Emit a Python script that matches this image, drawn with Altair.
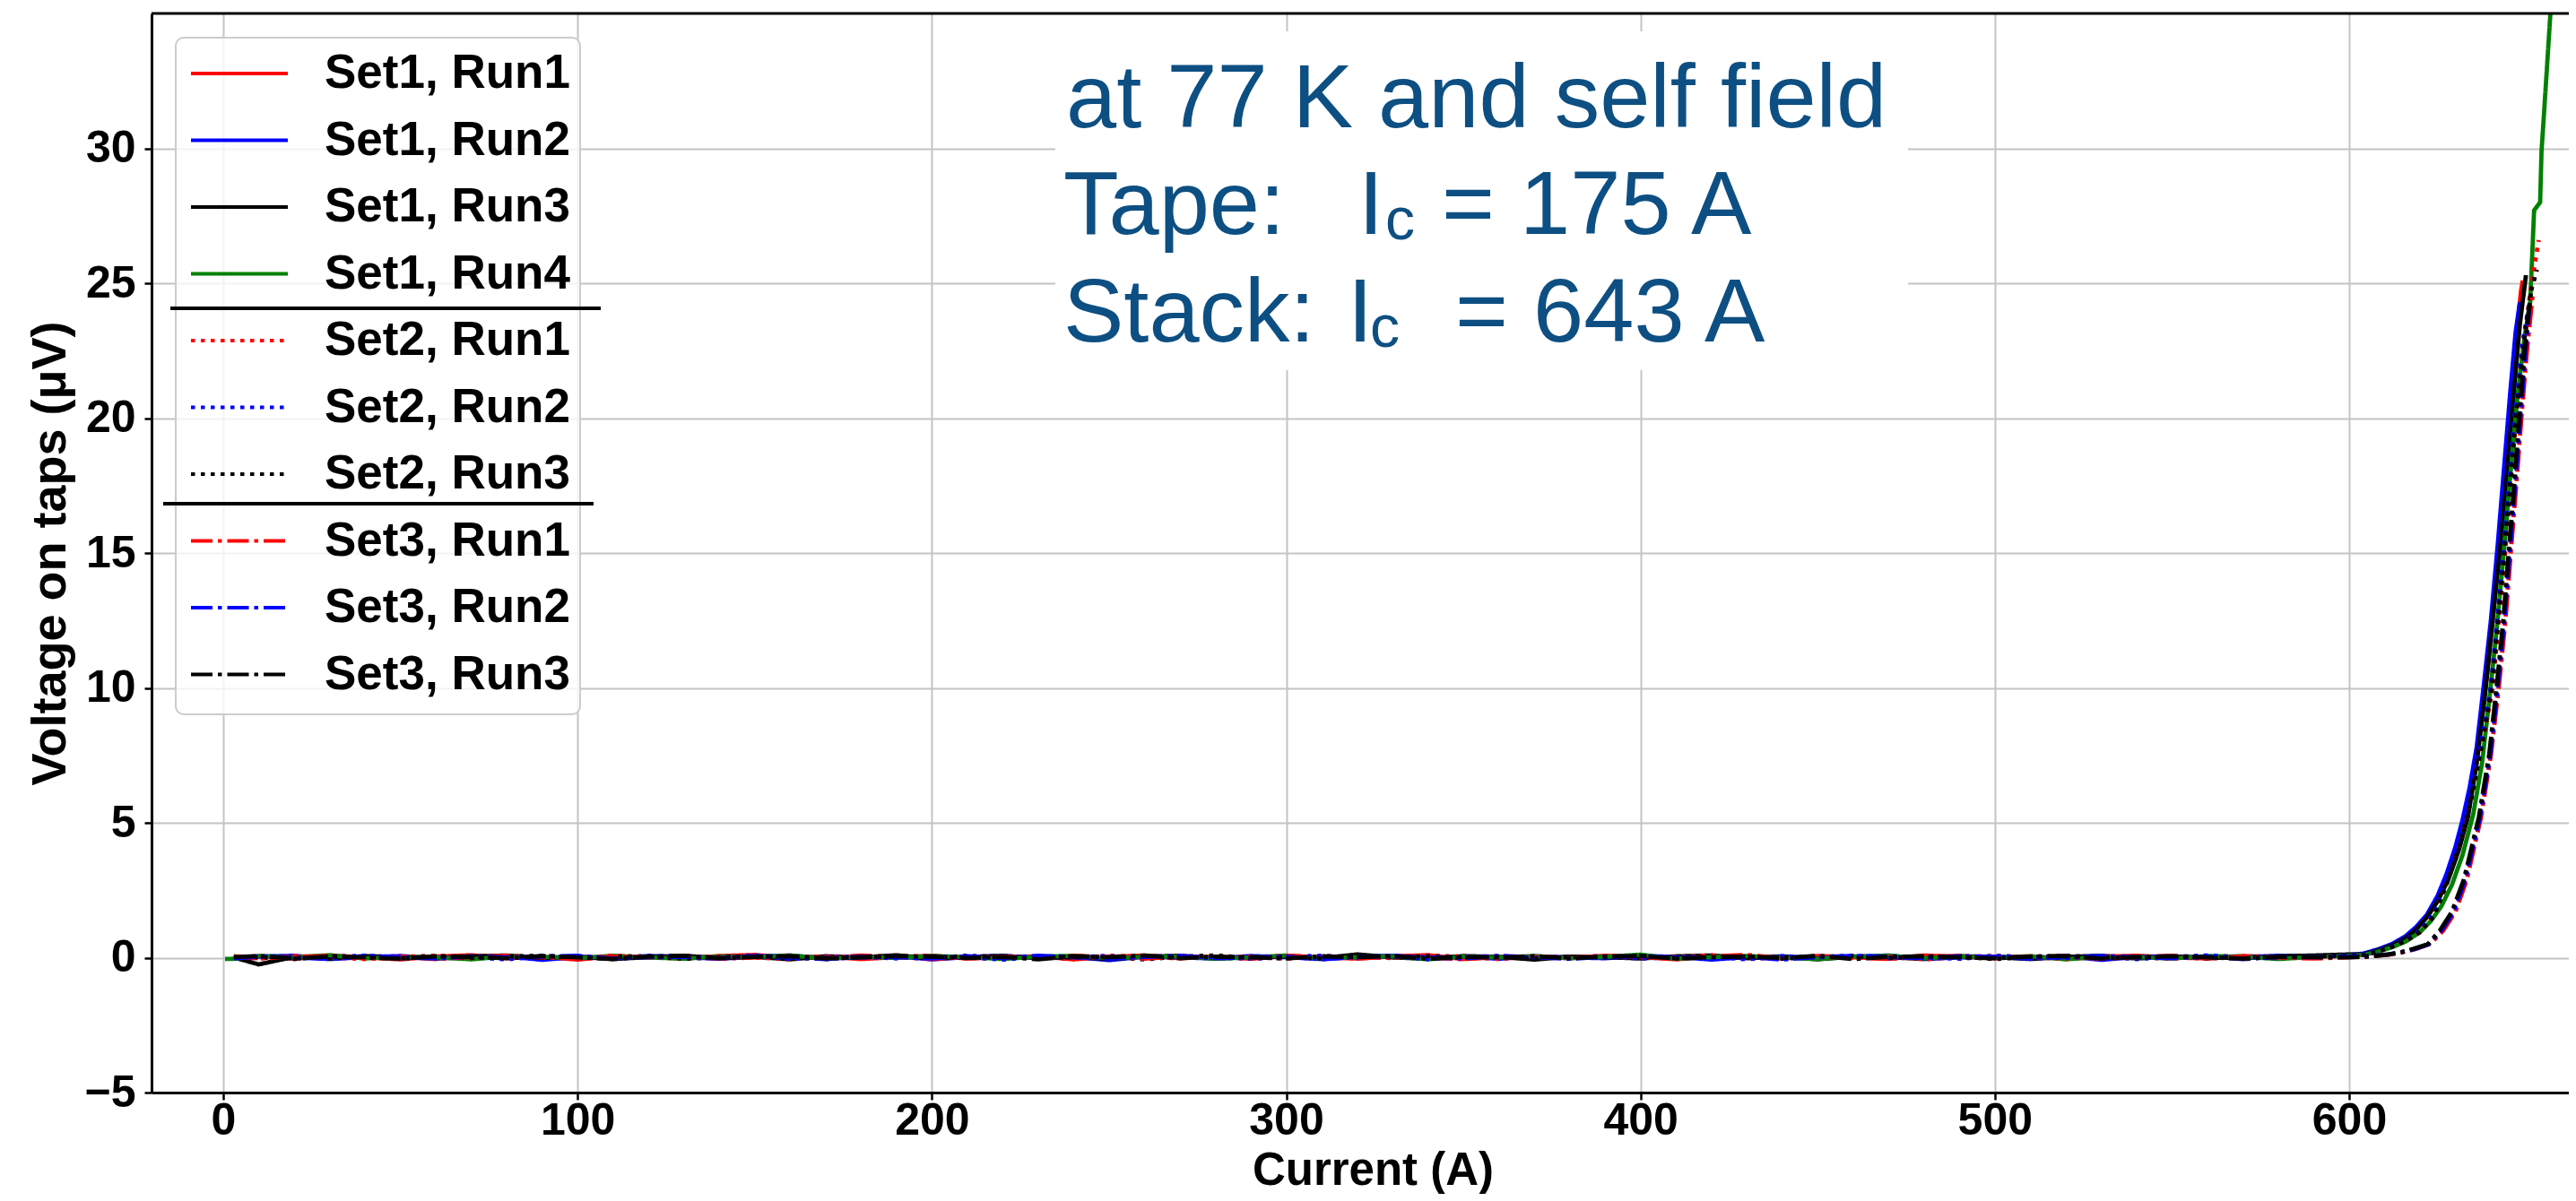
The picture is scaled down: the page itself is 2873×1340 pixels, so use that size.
import altair as alt
import pandas as pd

SERIES = ["Set1, Run1", "Set1, Run2", "Set1, Run3", "Set1, Run4",
          "Set2, Run1", "Set2, Run2", "Set2, Run3",
          "Set3, Run1", "Set3, Run2", "Set3, Run3"]
COLORS = ["#ff0000", "#0000ff", "#000000", "#008000",
          "#ff0000", "#0000ff", "#000000",
          "#ff0000", "#0000ff", "#000000"]
DASHES = [[1, 0], [1, 0], [1, 0], [1, 0],
          [4.5, 6.5], [4.5, 6.5], [4.5, 6.5],
          [24, 6, 4.5, 6], [24, 6, 4.5, 6], [24, 6, 4.5, 6]]

X_TICKS = [0, 100, 200, 300, 400, 500, 600]
Y_TICKS = [-5, 0, 5, 10, 15, 20, 25, 30]

# currents (A) of the flat, superconducting part
FLAT_CURRENT = [3, 10, 20, 30, 40, 50, 60, 70, 80, 90,
                100, 110, 120, 130, 140, 150, 160, 170, 180, 190,
                200, 210, 220, 230, 240, 250, 260, 270, 280, 290,
                300, 310, 320, 330, 340, 350, 360, 370, 380, 390,
                400, 410, 420, 430, 440, 450, 460, 470, 480, 490,
                500, 510, 520, 530, 540, 550, 560, 570, 580, 590,
                600]

# voltages (uV) of the flat part, one list per series
FLAT_S1R1 = [0.02, 0.05, -0.04, 0.08, 0.01, -0.06, 0.04, 0.09, -0.02, 0.03,
             -0.07, 0.05, 0.02, -0.03, 0.06, 0.10, -0.01, 0.04, -0.05, 0.02,
             0.07, -0.03, 0.01, 0.05, -0.06, 0.03, 0.08, -0.02, 0.04, -0.04,
             0.06, 0.01, -0.03, 0.05, 0.09, -0.05, 0.02, 0.04, -0.02, 0.07,
             0.03, -0.06, 0.05, 0.01, -0.03, 0.06, 0.02, -0.04, 0.08, 0.03,
             -0.02, 0.05, -0.05, 0.04, 0.07, 0.01, -0.03, 0.06, 0.02, 0.05,
             0.08]
FLAT_S1R2 = [-0.03, 0.04, 0.07, -0.05, 0.02, 0.06, -0.02, 0.01, 0.05, -0.08,
             0.03, -0.01, 0.06, 0.02, -0.04, 0.04, 0.08, -0.03, 0.01, 0.05,
             -0.06, 0.02, 0.07, -0.02, 0.03, -0.09, 0.04, 0.01, -0.03, 0.06,
             0.02, -0.05, 0.03, 0.07, -0.01, 0.04, -0.04, 0.05, 0.01, -0.02,
             0.06, 0.03, -0.07, 0.02, 0.05, -0.03, 0.04, 0.08, -0.05, 0.01,
             0.04, -0.02, 0.06, -0.08, 0.03, 0.05, -0.01, 0.02, 0.07, 0.04,
             0.10]
FLAT_S1R3 = [0.01, -0.25, 0.03, -0.04, 0.06, 0.02, -0.03, 0.05, 0.08, -0.01,
             0.04, -0.05, 0.02, 0.07, -0.02, 0.03, -0.06, 0.05, 0.01, 0.09,
             -0.04, 0.03, 0.06, -0.01, 0.02, -0.05, 0.04, 0.07, -0.03, 0.02,
             0.05, -0.02, 0.12, 0.01, -0.04, 0.06, 0.03, -0.07, 0.04, 0.02,
             -0.03, 0.05, 0.08, -0.02, 0.03, -0.06, 0.04, 0.01, -0.04, 0.06,
             0.02, -0.05, 0.03, 0.07, -0.03, 0.04, 0.01, -0.02, 0.05, 0.08,
             0.12]
FLAT_S1R4 = [-0.04, 0.06, 0.02, 0.09, -0.03, 0.04, 0.01, -0.06, 0.05, 0.03,
             -0.02, 0.07, 0.01, -0.04, 0.05, 0.02, 0.08, -0.03, 0.04, -0.01,
             0.06, 0.02, -0.05, 0.04, 0.07, -0.02, 0.03, 0.05, -0.04, 0.01,
             0.08, -0.03, 0.02, 0.05, -0.06, 0.04, 0.01, 0.06, -0.02, 0.03,
             0.11, -0.04, 0.02, 0.06, 0.01, -0.05, 0.03, 0.07, -0.02, 0.04,
             0.01, 0.05, -0.06, 0.03, 0.02, -0.03, 0.06, 0.04, -0.05, 0.03,
             0.07]
FLAT_S2R1 = [0.04, -0.02, 0.06, 0.01, -0.05, 0.03, 0.07, -0.01, 0.02, 0.05,
             -0.04, 0.08, 0.02, -0.02, 0.04, 0.01, -0.06, 0.05, 0.03, -0.01,
             0.06, -0.03, 0.04, 0.02, -0.05, 0.07, 0.01, -0.02, 0.05, 0.03,
             -0.04, 0.06, 0.02, -0.01, 0.08, 0.03, -0.05, 0.04, 0.01, 0.06,
             -0.02, 0.03, 0.09, -0.04, 0.02, 0.05, -0.01, 0.04, -0.06, 0.02,
             0.07, 0.01, -0.03, 0.05, 0.02, -0.04, 0.06, 0.03, -0.01, 0.04,
             0.06]
FLAT_S2R2 = [-0.01, 0.05, -0.04, 0.03, 0.07, -0.02, 0.04, 0.01, -0.06, 0.05,
             0.02, -0.03, 0.06, 0.04, -0.01, 0.08, -0.05, 0.02, 0.03, -0.02,
             0.05, 0.01, -0.07, 0.04, 0.02, 0.06, -0.03, 0.05, 0.01, -0.04,
             0.03, 0.07, -0.02, 0.04, -0.05, 0.02, 0.06, -0.01, 0.03, 0.05,
             -0.03, 0.02, 0.04, -0.06, 0.05, 0.01, 0.07, -0.02, 0.03, -0.04,
             0.06, 0.02, -0.01, 0.04, -0.05, 0.03, 0.08, 0.01, -0.02, 0.05,
             0.09]
FLAT_S2R3 = [0.03, 0.01, -0.05, 0.06, 0.02, -0.03, 0.05, -0.01, 0.04, 0.07,
             -0.02, 0.03, 0.05, -0.04, 0.01, 0.06, 0.02, -0.05, 0.04, 0.03,
             -0.01, 0.07, 0.02, -0.03, 0.05, 0.01, -0.06, 0.04, 0.08, -0.02,
             0.03, -0.04, 0.05, 0.02, 0.06, -0.01, 0.03, -0.05, 0.04, 0.02,
             0.07, -0.02, 0.01, 0.05, -0.04, 0.03, 0.06, -0.01, 0.02, 0.04,
             -0.05, 0.03, 0.07, 0.01, -0.02, 0.05, -0.03, 0.04, 0.02, 0.06,
             0.08]
FLAT_S3R1 = [0.05, -0.03, 0.02, 0.06, -0.01, 0.04, -0.05, 0.03, 0.07, 0.01,
             -0.03, 0.04, 0.02, 0.06, -0.04, 0.01, 0.05, -0.02, 0.08, 0.03,
             -0.05, 0.02, 0.04, -0.01, 0.06, 0.03, -0.04, 0.05, 0.01, -0.02,
             0.07, 0.02, -0.03, 0.04, 0.01, -0.06, 0.05, 0.03, -0.01, 0.06,
             0.02, -0.04, 0.05, 0.10, -0.02, 0.03, 0.01, -0.05, 0.04, 0.06,
             -0.01, 0.03, 0.05, -0.04, 0.02, 0.07, -0.02, 0.03, 0.01, -0.03,
             0.02]
FLAT_S3R2 = [-0.02, 0.04, 0.01, -0.05, 0.06, 0.02, -0.03, 0.05, 0.01, 0.04,
             0.07, -0.04, 0.02, 0.03, -0.02, 0.06, 0.01, -0.05, 0.04, 0.02,
             -0.03, 0.05, -0.01, 0.07, 0.02, -0.04, 0.03, 0.06, -0.02, 0.01,
             0.04, -0.06, 0.03, 0.05, 0.01, -0.03, 0.06, 0.02, -0.04, 0.03,
             0.05, 0.01, -0.02, 0.04, -0.07, 0.03, 0.06, 0.02, -0.01, 0.05,
             0.03, -0.04, 0.02, 0.06, 0.01, -0.02, 0.04, -0.05, 0.03, 0.02,
             0.04]
FLAT_S3R3 = [0.02, 0.06, -0.03, 0.04, 0.01, -0.04, 0.05, 0.03, -0.02, 0.06,
             0.01, -0.05, 0.04, 0.07, -0.02, 0.03, 0.05, -0.03, 0.02, 0.06,
             0.04, -0.01, 0.03, -0.06, 0.05, 0.02, 0.08, -0.02, 0.04, 0.01,
             -0.03, 0.05, 0.02, 0.06, -0.04, 0.03, 0.01, 0.05, -0.02, 0.04,
             0.06, -0.03, 0.02, 0.04, -0.01, 0.07, -0.05, 0.03, 0.05, 0.01,
             -0.02, 0.04, 0.06, -0.03, 0.02, 0.05, 0.01, -0.04, 0.03, 0.02,
             0.01]

# transition (quench onset) part: currents (A) and voltages (uV)
RISE_I_S1R1 = [604, 608, 612, 616, 619, 622, 625, 628, 630.5, 633, 635, 637, 639, 641, 643, 645, 647, 648.5, 649.0]
RISE_V_S1R1 = [0.12, 0.28, 0.48, 0.75, 1.1, 1.55, 2.2, 3.1, 4.1, 5.4, 6.7, 8.4, 10.6, 13.3, 16.3, 19.7, 22.8, 24.7, 25.1]
RISE_I_S1R2 = [604, 608, 612, 616, 619, 622, 625, 627.5, 630, 632, 634, 636, 638, 640, 642, 644, 645.5, 647, 648.2]
RISE_V_S1R2 = [0.15, 0.3, 0.5, 0.8, 1.15, 1.6, 2.3, 3.1, 4.1, 5.1, 6.3, 7.8, 10.1, 12.5, 15.4, 18.6, 21.0, 23.2, 24.3]
RISE_I_S1R3 = [604, 608, 612, 616, 619, 622, 625, 628, 631, 633.5, 636, 638.4, 640.5, 642.5, 644.5, 646.5, 648.2, 649.9]
RISE_V_S1R3 = [0.12, 0.27, 0.45, 0.72, 1.05, 1.5, 2.1, 2.9, 4.0, 5.2, 7.2, 9.8, 12.5, 15.0, 17.9, 21.0, 23.5, 25.3]
RISE_I_S1R4 = [604, 608, 612, 616, 620, 623, 626, 629, 632, 635, 637.5, 639.5, 641.5, 643.5, 645.5, 647.5, 649.5, 651.1, 652.2, 653.9, 654.3, 655.1, 656.8, 657.4]
RISE_V_S1R4 = [0.1, 0.22, 0.38, 0.6, 0.95, 1.35, 1.9, 2.7, 3.8, 5.3, 7.2, 9.5, 12.0, 14.8, 17.9, 20.8, 23.0, 24.3, 27.7, 28.0, 29.9, 31.5, 35.0, 36.2]
RISE_I_S2R1 = [604, 608, 612, 616, 620, 624, 628, 631.5, 634.5, 637.5, 640.5, 644, 647.1, 649.5, 651.5, 653.5]
RISE_V_S2R1 = [0.1, 0.22, 0.4, 0.63, 0.95, 1.6, 2.9, 4.3, 5.9, 7.9, 10.0, 15.0, 20.0, 23.0, 25.0, 26.6]
RISE_I_S2R2 = [604, 608, 612, 616, 620, 624, 627.5, 631, 634, 637, 640, 643.5, 646.6, 649, 650.5, 651.5]
RISE_V_S2R2 = [0.12, 0.25, 0.42, 0.66, 1.0, 1.65, 2.9, 4.3, 5.9, 7.8, 10.0, 15.0, 20.0, 22.8, 24.0, 24.5]
RISE_I_S2R3 = [604, 608, 612, 616, 620, 624, 628, 631.5, 634.5, 637.5, 640.3, 643.8, 647.0, 649.5, 651.5, 653]
RISE_V_S2R3 = [0.1, 0.22, 0.4, 0.62, 0.95, 1.55, 2.9, 4.3, 5.9, 7.9, 10.0, 15.0, 20.0, 23.0, 24.8, 25.5]
RISE_I_S3R1 = [606, 611, 615, 619, 623, 626.5, 630, 633.2, 637.2, 640, 642.2, 644.1, 645.6, 647.2, 648.6, 650.1, 651.8]
RISE_V_S3R1 = [0.05, 0.1, 0.2, 0.33, 0.52, 1.0, 1.7, 2.9, 5.2, 7.5, 10.0, 12.5, 15.0, 17.6, 20.0, 22.4, 24.6]
RISE_I_S3R2 = [606, 611, 614.6, 618.5, 622.5, 626, 629.5, 632.8, 636.9, 639.8, 641.9, 643.8, 645.3, 646.9, 648.3, 649.8, 651.0]
RISE_V_S3R2 = [0.06, 0.12, 0.2, 0.32, 0.5, 1.0, 1.7, 2.9, 5.2, 7.5, 10.0, 12.5, 15.0, 17.6, 20.0, 22.5, 24.3]
RISE_I_S3R3 = [606, 611, 614.6, 618, 622.2, 625.6, 629, 632.4, 636.6, 639.5, 641.6, 643.5, 645, 646.6, 648, 649.5, 651.4]
RISE_V_S3R3 = [0.05, 0.12, 0.2, 0.32, 0.5, 1.0, 1.7, 2.9, 5.2, 7.5, 10.0, 12.5, 15.0, 17.6, 20.0, 22.5, 24.8]

# Set1, Run4 starts a little earlier
S1R4_START_I = [0.5]
S1R4_START_V = [-0.05]

ANNOT_LINE1 = "at 77 K and self field"
ANNOT_TAPE = ["Tape:", "I", "c", "= 175 A"]
ANNOT_STACK = ["Stack:", "I", "c", "= 643 A"]

X_TITLE = "Current (A)"
Y_TITLE = "Voltage on taps (\u03bcV)"

# ---------------------------------------------------------------- table
FLAT = [FLAT_S1R1, FLAT_S1R2, FLAT_S1R3, FLAT_S1R4, FLAT_S2R1,
        FLAT_S2R2, FLAT_S2R3, FLAT_S3R1, FLAT_S3R2, FLAT_S3R3]
RISE_I = [RISE_I_S1R1, RISE_I_S1R2, RISE_I_S1R3, RISE_I_S1R4, RISE_I_S2R1,
          RISE_I_S2R2, RISE_I_S2R3, RISE_I_S3R1, RISE_I_S3R2, RISE_I_S3R3]
RISE_V = [RISE_V_S1R1, RISE_V_S1R2, RISE_V_S1R3, RISE_V_S1R4, RISE_V_S2R1,
          RISE_V_S2R2, RISE_V_S2R3, RISE_V_S3R1, RISE_V_S3R2, RISE_V_S3R3]

rows = []
for k, name in enumerate(SERIES):
    cur = list(FLAT_CURRENT) + list(RISE_I[k])
    vol = list(FLAT[k]) + list(RISE_V[k])
    if name == "Set1, Run4":
        cur = S1R4_START_I + cur
        vol = S1R4_START_V + vol
    for c, v in zip(cur, vol):
        rows.append({"series": name, "current": c, "voltage": v})
df = pd.DataFrame(rows)

# ---------------------------------------------------------------- chart
W, H = 2696, 1204
FONT = "Liberation Sans"
TXT_BLUE = "#0d4f82"

x_scale = alt.Scale(domain=[-20.25, 662.0], nice=False, zero=False)
y_scale = alt.Scale(domain=[-5, 35], nice=False, zero=False)

# legend: a horizontal stroke twice as long as the symbol box
leg = alt.Legend(orient="none", legendX=69, legendY=38, direction="vertical",
                 title=None, symbolType="M-2,0H2", symbolSize=2916,
                 symbolStrokeWidth=3.8, labelFont=FONT, labelFontWeight="bold",
                 labelFontSize=53, labelColor="black", labelOffset=66,
                 rowPadding=18.5, padding=0, labelLimit=0)

x_axis = alt.Axis(values=X_TICKS, title=X_TITLE, grid=True, gridColor="#c4c4c4",
                  gridWidth=2, domainColor="black", domainWidth=3,
                  tickColor="black", tickWidth=2.5, tickSize=8, labelPadding=-2,
                  labelFont=FONT, labelFontWeight="bold", labelFontSize=50,
                  labelColor="black", titleFont=FONT, titleFontWeight="bold",
                  titleFontSize=51, titleColor="black", titleX=1362, titleY=102,
                  titleBaseline="alphabetic", titleAlign="center")
y_axis = alt.Axis(values=Y_TICKS, title=Y_TITLE, grid=True, gridColor="#c4c4c4",
                  gridWidth=2, domainColor="black", domainWidth=3,
                  tickColor="black", tickWidth=2.5, tickSize=8, labelPadding=10,
                  labelFont=FONT, labelFontWeight="bold", labelFontSize=50,
                  labelColor="black", titleFont=FONT, titleFontWeight="bold",
                  titleFontSize=54, titleColor="black", titleX=-97, titleY=602,
                  titleAngle=270, titleBaseline="alphabetic", titleAlign="center")

one = pd.DataFrame({"k": [0]})

# white box behind the annotation
annot_box = alt.Chart(one).mark_rect(fill="white", stroke=None).encode(
    x=alt.value(1008), x2=alt.value(1959), y=alt.value(20), y2=alt.value(398))


def txt(s, x, y, size=101):
    return alt.Chart(one).mark_text(align="left", baseline="alphabetic", font=FONT,
                                    fontSize=size, color=TXT_BLUE).encode(
        x=alt.value(x), y=alt.value(y), text=alt.value(s))


annots = [
    txt(ANNOT_LINE1, 1020, 127),
    txt(ANNOT_TAPE[0], 1017, 246),
    txt(ANNOT_TAPE[1], 1346, 246),
    txt(ANNOT_TAPE[2], 1376, 252, 66),
    txt(ANNOT_TAPE[3], 1439, 246),
    txt(ANNOT_STACK[0], 1017, 366),
    txt(ANNOT_STACK[1], 1334, 366),
    txt(ANNOT_STACK[2], 1359, 372, 66),
    txt(ANNOT_STACK[3], 1454, 366),
]

lines = alt.Chart(df).mark_line(strokeWidth=4.8, clip=True).encode(
    x=alt.X("current:Q", scale=x_scale, axis=x_axis),
    y=alt.Y("voltage:Q", scale=y_scale, axis=y_axis),
    color=alt.Color("series:N", scale=alt.Scale(domain=SERIES, range=COLORS), legend=leg),
    strokeDash=alt.StrokeDash("series:N", scale=alt.Scale(domain=SERIES, range=DASHES), legend=leg),
)

legend_box = alt.Chart(one).mark_rect(fill="white", fillOpacity=0.8, stroke="#cccccc",
                                      strokeWidth=2, cornerRadius=9).encode(
    x=alt.value(27), x2=alt.value(478), y=alt.value(27), y2=alt.value(782))

sep1 = alt.Chart(one).mark_rule(color="black", strokeWidth=4).encode(
    x=alt.value(21), x2=alt.value(501), y=alt.value(329))
sep2 = alt.Chart(one).mark_rule(color="black", strokeWidth=4).encode(
    x=alt.value(13), x2=alt.value(493), y=alt.value(547))

# top spine of the frame
top_spine = alt.Chart(one).mark_rule(color="black", strokeWidth=3).encode(
    x=alt.value(0), x2=alt.value(W), y=alt.value(0))

chart = alt.layer(annot_box, *annots, lines, legend_box, sep1, sep2, top_spine).properties(
    width=W, height=H,
    padding={"left": 161, "top": 7, "right": 0, "bottom": 113},
    autosize=alt.AutoSizeParams(type="none"),
    background="white",
).configure_view(stroke=None)

chart.save("out.html", embed_options={"renderer": "svg", "actions": False})
